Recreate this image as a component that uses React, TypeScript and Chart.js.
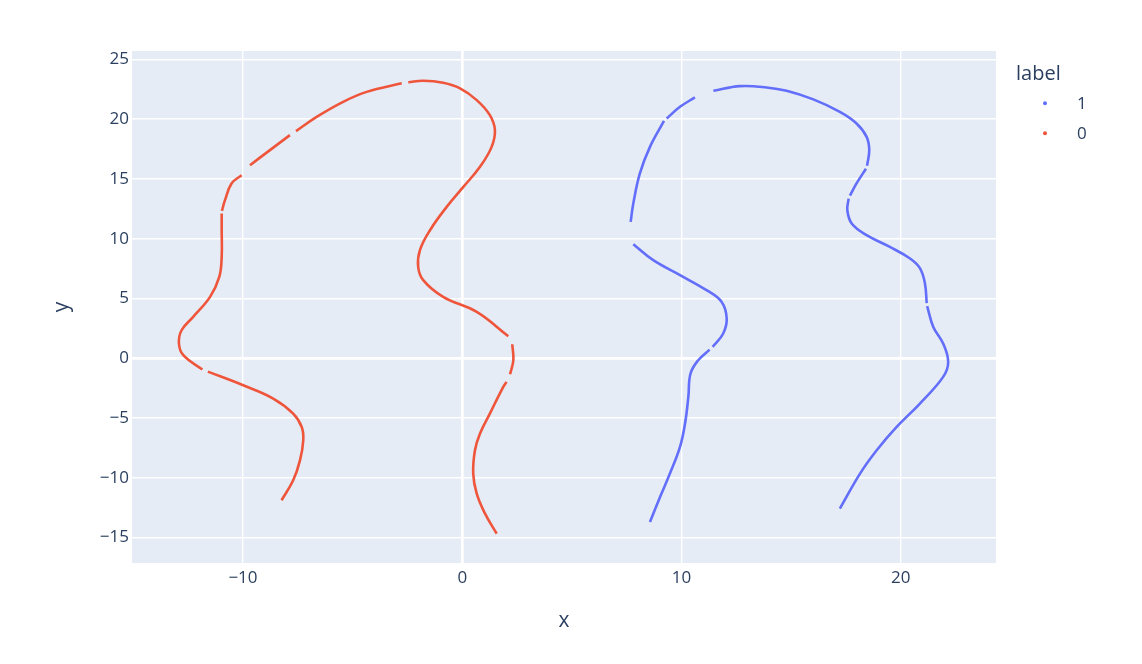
import React, { useEffect, useRef } from "react";
import { Chart, registerables } from "chart.js";

Chart.register(...registerables);

// ---- Data ----
const xTickValues = [-10, 0, 10, 20];
const yTickValues = [-15, -10, -5, 0, 5, 10, 15, 20, 25];
const xRange = [-15.06, 24.34];
const yRange = [-17.13, 25.7];

const legendTitle = "label";
const seriesNames = ["1", "0"];
const seriesColors = ["#636efa", "#EF553B"];

// label 0 (red) – path pieces between the small visible gaps
const label0A: [number, number][] = [
  [-8.24, -11.88], [-7.71, -10.21], [-7.4, -8.54], [-7.25, -6.86], [-7.32, -5.75],
  [-7.71, -4.63], [-8.62, -3.37], [-9.99, -2.26], [-11.6, -1.12],
];
const label0B: [number, number][] = [
  [-11.85, -0.95], [-12.72, 0.25], [-12.92, 1.23], [-12.8, 2.34], [-12.27, 3.46],
  [-11.5, 5.13], [-11.08, 6.8], [-10.97, 8.48], [-10.97, 10.71], [-10.97, 12.11],
];
const label0C: [number, number][] = [
  [-10.96, 12.32], [-10.82, 13.22], [-10.52, 14.62], [-10.06, 15.31],
];
const label0D: [number, number][] = [
  [-9.68, 16.15], [-8.77, 17.41], [-7.86, 18.66],
];
const label0E: [number, number][] = [
  [-7.58, 19.0], [-6.64, 20.19], [-5.43, 21.45], [-4.36, 22.28], [-2.76, 23.0],
];
const label0F: [number, number][] = [
  [-2.46, 23.08], [-1.78, 23.21], [-0.87, 23.04], [-0.1, 22.57], [0.66, 21.59],
  [1.26, 20.33], [1.49, 19.08], [1.34, 17.68], [0.81, 16.01], [0.05, 14.33],
  [-0.71, 12.66], [-1.47, 10.71], [-1.93, 9.04], [-2.01, 7.64], [-1.78, 6.53],
  [-0.87, 5.13], [0.66, 3.87], [2.1, 1.84],
];
const label0G: [number, number][] = [
  [2.28, 1.17], [2.33, -0.17], [2.18, -1.34],
];
const label0H: [number, number][] = [
  [2.02, -1.98], [1.87, -2.4], [1.26, -4.63], [0.81, -6.3], [0.58, -7.7],
  [0.5, -9.65], [0.66, -11.32], [1.04, -13.0], [1.57, -14.67],
];

// label 1 (blue) – path pieces between the visible gaps
const label1A: [number, number][] = [
  [7.68, 11.41], [7.8, 12.95], [8.1, 15.46], [8.56, 17.68], [9.2, 19.85],
];
const label1B: [number, number][] = [
  [9.32, 20.05], [9.93, 21.03], [10.61, 21.82],
];
const label1C: [number, number][] = [
  [11.45, 22.37], [12.66, 22.76], [13.88, 22.65], [14.79, 22.37], [16.01, 21.65],
  [17.22, 20.61], [17.98, 19.64], [18.44, 18.52], [18.56, 17.41], [18.46, 16.1],
];
const label1D: [number, number][] = [
  [18.41, 15.85], [17.98, 14.62], [17.68, 13.6],
];
const label1E: [number, number][] = [
  [17.62, 13.35], [17.56, 12.38], [17.76, 11.27], [18.44, 10.29], [19.5, 9.31],
  [20.42, 8.34], [20.87, 7.53], [21.1, 6.25], [21.18, 4.6],
];
const label1F: [number, number][] = [
  [21.2, 4.35], [21.48, 2.62], [21.93, 1.23], [22.16, -0.31], [21.93, -1.56],
  [20.87, -3.79], [19.81, -5.75], [18.9, -7.7], [18.14, -9.65], [17.22, -12.58],
];
const label1G: [number, number][] = [
  [7.8, 9.54], [8.71, 8.2], [9.93, 6.95], [11.14, 5.69], [11.83, 4.71],
  [12.06, 3.32], [11.9, 2.07], [11.42, 0.95],
];
const label1H: [number, number][] = [
  [11.28, 0.72], [10.76, -0.17], [10.41, -1.28], [10.31, -3.24], [10.16, -5.46],
  [9.93, -7.42], [9.47, -9.65], [9.02, -11.61], [8.56, -13.7],
];

const FONT = "'Open Sans', 'Noto Sans', sans-serif";
const TEXT = "#2a3f5f";

function joinSegments(...segs: [number, number][][]) {
  const out: { x: number | null; y: number | null }[] = [];
  segs.forEach((s, i) => {
    if (i > 0) out.push({ x: null, y: null });
    s.forEach(([x, y]) => out.push({ x, y }));
  });
  return out;
}

const fmt = (v: number) => String(v).replace("-", "\u2212");

export default function App() {
  const ref = useRef<HTMLCanvasElement | null>(null);

  useEffect(() => {
    if (!ref.current) return;

    const bgPlugin = {
      id: "plotBg",
      beforeDraw(chart: any) {
        const { ctx, chartArea } = chart;
        ctx.save();
        ctx.fillStyle = "#E5ECF6";
        ctx.fillRect(chartArea.left, chartArea.top, chartArea.right - chartArea.left, chartArea.bottom - chartArea.top);
        ctx.restore();
      },
    };

    const legendPlugin = {
      id: "plotLegend",
      afterDraw(chart: any) {
        const ctx = chart.ctx;
        ctx.save();
        ctx.fillStyle = TEXT;
        ctx.textBaseline = "alphabetic";
        ctx.textAlign = "left";
        ctx.font = `20px ${FONT}`;
        ctx.fillText(legendTitle, 1016, 79.5);
        ctx.font = `17px ${FONT}`;
        const ys = [103.3, 133.3];
        seriesNames.forEach((name, i) => {
          ctx.fillStyle = seriesColors[i];
          ctx.beginPath();
          ctx.arc(1045, ys[i], 2, 0, Math.PI * 2);
          ctx.fill();
          ctx.fillStyle = TEXT;
          ctx.fillText(name, 1077, ys[i] + 5.6);
        });
        ctx.restore();
      },
    };

    const lineStyle = {
      showLine: true,
      borderWidth: 2.6,
      pointRadius: 0,
      tension: 0.4,
      spanGaps: false,
    };

    const chart = new Chart(ref.current, {
      type: "scatter",
      data: {
        datasets: [
          {
            label: seriesNames[0],
            data: joinSegments(label1A, label1B, label1C, label1D, label1E, label1F, label1G, label1H) as any,
            borderColor: seriesColors[0],
            backgroundColor: seriesColors[0],
            ...lineStyle,
          },
          {
            label: seriesNames[1],
            data: joinSegments(label0A, label0B, label0C, label0D, label0E, label0F, label0G, label0H) as any,
            borderColor: seriesColors[1],
            backgroundColor: seriesColors[1],
            ...lineStyle,
          },
        ],
      },
      options: {
        responsive: false,
        animation: false,
        events: [],
        layout: { padding: { top: 51, right: 146, bottom: 0, left: 0 } },
        plugins: {
          legend: { display: false },
          tooltip: { enabled: false },
        },
        scales: {
          x: {
            type: "linear",
            min: xRange[0],
            max: xRange[1],
            afterBuildTicks: (s: any) => {
              s.ticks = xTickValues.map((v) => ({ value: v }));
            },
            afterFit: (s: any) => {
              s.height = 101;
            },
            border: { display: false },
            grid: {
              color: "#ffffff",
              lineWidth: (c: any) => (c.tick && c.tick.value === 0 ? 2.7 : 1.4),
              drawTicks: false,
            },
            ticks: {
              padding: 5,
              color: TEXT,
              font: { family: FONT, size: 17 },
              callback: (v: any) => fmt(v),
              maxRotation: 0,
            },
            title: {
              display: true,
              text: "x",
              color: TEXT,
              font: { family: FONT, size: 21 },
              padding: { top: 0, bottom: 30 },
            },
          },
          y: {
            type: "linear",
            min: yRange[0],
            max: yRange[1],
            afterBuildTicks: (s: any) => {
              s.ticks = yTickValues.map((v) => ({ value: v }));
            },
            afterFit: (s: any) => {
              s.width = 132;
            },
            border: { display: false },
            grid: {
              color: "#ffffff",
              lineWidth: (c: any) => (c.tick && c.tick.value === 0 ? 2.7 : 1.4),
              drawTicks: false,
            },
            ticks: {
              padding: 3,
              color: TEXT,
              font: { family: FONT, size: 17 },
              callback: (v: any) => fmt(v),
            },
            title: {
              display: true,
              text: "y",
              color: TEXT,
              font: { family: FONT, size: 21 },
              padding: { top: 49, bottom: 0 },
            },
          },
        },
      } as any,
      plugins: [bgPlugin, legendPlugin],
    });

    return () => chart.destroy();
  }, []);

  return (
    <div style={{ position: "fixed", left: 0, top: 0, width: 1142, height: 664, background: "#fff" }}>
      <canvas ref={ref} width={1142} height={664} style={{ display: "block" }} />
    </div>
  );
}
